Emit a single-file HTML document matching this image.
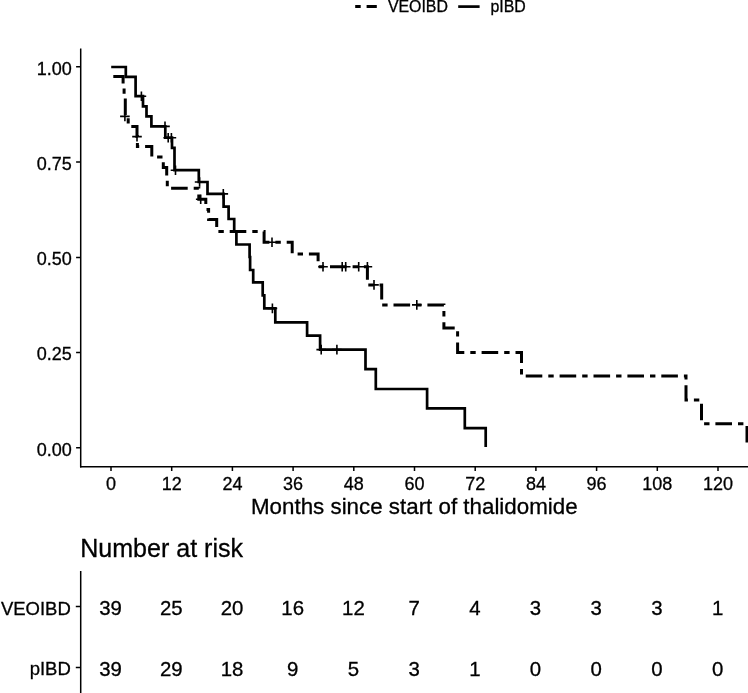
<!DOCTYPE html><html><head><meta charset="utf-8"><title>KM</title><style>html,body{margin:0;padding:0;background:#fff}svg{display:block}text{font-family:"Liberation Sans",Arial,sans-serif;fill:#000;stroke:#000;stroke-width:0.3px}</style></head><body>
<svg width="748" height="693" viewBox="0 0 748 693">
<rect width="748" height="693" fill="#fff"/>
<g id="legend"><path d="M355.2,6.6H360.7M366.6,6.6H376.8" stroke="#000" stroke-width="3" fill="none"/><path d="M458.2,6.6H479.6" stroke="#000" stroke-width="2.7"/>
<text x="387.9" y="12.2" font-size="15.9">VEOIBD</text><text x="490.4" y="12.2" font-size="15.9">pIBD</text></g>
<g stroke="#000" stroke-width="1.5" fill="none"><path d="M80.7,48.4V467.5"/><path d="M80,466.8H748"/>
<path d="M76.1,66.7H80.7M76.1,162.1H80.7M76.1,257.6H80.7M76.1,352.6H80.7M76.1,447.7H80.7M111.0,466.8V470.9M171.7,466.8V470.9M232.4,466.8V470.9M293.1,466.8V470.9M353.8,466.8V470.9M414.5,466.8V470.9M475.2,466.8V470.9M535.9,466.8V470.9M596.6,466.8V470.9M657.3,466.8V470.9M718.0,466.8V470.9"/></g>
<text x="71.9" y="74.5" font-size="18.0" text-anchor="end">1.00</text>
<text x="71.9" y="169.9" font-size="18.0" text-anchor="end">0.75</text>
<text x="71.9" y="265.4" font-size="18.0" text-anchor="end">0.50</text>
<text x="71.9" y="360.4" font-size="18.0" text-anchor="end">0.25</text>
<text x="71.9" y="455.5" font-size="18.0" text-anchor="end">0.00</text>
<text x="111.0" y="490.2" font-size="18.0" text-anchor="middle">0</text>
<text x="171.7" y="490.2" font-size="18.0" text-anchor="middle">12</text>
<text x="232.4" y="490.2" font-size="18.0" text-anchor="middle">24</text>
<text x="293.1" y="490.2" font-size="18.0" text-anchor="middle">36</text>
<text x="353.8" y="490.2" font-size="18.0" text-anchor="middle">48</text>
<text x="414.5" y="490.2" font-size="18.0" text-anchor="middle">60</text>
<text x="475.2" y="490.2" font-size="18.0" text-anchor="middle">72</text>
<text x="535.9" y="490.2" font-size="18.0" text-anchor="middle">84</text>
<text x="596.6" y="490.2" font-size="18.0" text-anchor="middle">96</text>
<text x="657.3" y="490.2" font-size="18.0" text-anchor="middle">108</text>
<text x="718.0" y="490.2" font-size="18.0" text-anchor="middle">120</text>
<text x="414.3" y="514" font-size="22.35" text-anchor="middle">Months since start of thalidomide</text>
<path d="M113.3,76.6 H123.1 V86.5 H124.1 V96.4 H125.3 V116.3 H128.2 V126.4 H137.0 V136.4 H137.4 V146.5 H151.8 V157.1 H163.3 V167.5 H166.7 V177.8 H167.3 V188.3 H198.8 V199.2 H205.8 V209.4 H208.6 V219.6 H216.7 V231.4 H264.1 V242.2 H292.2 V253.9 H318.1 V266.7 H367.4 V284.9 H381.7 V304.9 H443.9 V328.1 H457.6 V352.4 H521.5 V376.1 H686.0 V400.0 H701.5 V423.7 H747.0 V447" stroke="#000" stroke-width="3" fill="none" stroke-dasharray="16.6 6 5.4 5.9"/>
<path d="M111.2,67.0 H125.8 V76.8 H135.6 V96.2 H143.0 V106.3 H146.5 V116.3 H151.4 V126.4 H165.3 V137.7 H172.0 V147.8 H174.5 V170.2 H198.8 V182.0 H207.5 V193.9 H223.6 V206.6 H228.6 V219.0 H234.2 V231.6 H236.4 V244.5 H249.6 V257.0 H250.1 V270.0 H253.2 V282.3 H262.7 V295.3 H264.3 V308.4 H275.3 V322.3 H307.1 V335.7 H320.1 V349.6 H365.5 V369.2 H375.8 V389 H427.1 V408.3 H464.8 V428.1 H485.7 V447" stroke="#000" stroke-width="2.7" fill="none"/>
<path d="M136.6,96.2H146.2M141.4,91.4V101.0M160.2,126.4H169.8M165.0,121.6V131.2M163.4,137.7H173.0M168.2,132.9V142.5M166.6,137.7H176.2M171.4,132.9V142.5M170.7,170.2H180.3M175.5,165.4V175.0M194.8,182.0H204.4M199.6,177.2V186.8M218.5,193.9H228.1M223.3,189.1V198.7M267.6,308.4H277.2M272.4,303.6V313.2M316.4,349.6H326.0M321.2,344.8V354.4M332.1,349.6H341.7M336.9,344.8V354.4M120.1,116.4H129.7M124.9,111.6V121.2M132.2,136.6H141.8M137.0,131.8V141.4M195.9,199.2H205.5M200.7,194.4V204.0M267.2,242.2H276.8M272.0,237.4V247.0M318.2,266.7H327.8M323.0,261.9V271.5M337.4,266.7H347.0M342.2,261.9V271.5M340.9,266.7H350.5M345.7,261.9V271.5M353.9,266.7H363.5M358.7,261.9V271.5M362.6,266.7H372.2M367.4,261.9V271.5M369.2,284.9H378.8M374.0,280.1V289.7M412.0,304.9H421.6M416.8,300.1V309.7" stroke="#000" stroke-width="1.6" fill="none"/>
<text x="80.2" y="557" font-size="25.05">Number at risk</text>
<g stroke="#000" stroke-width="1.5"><path d="M80.7,571.1V693M75.8,606.6H80.7M75.8,667.5H80.7"/></g>
<text x="70.8" y="614.7" font-size="18.5" text-anchor="end">VEOIBD</text><text x="70.8" y="675.2" font-size="18.5" text-anchor="end">pIBD</text>
<text x="110.6" y="615.3" font-size="20.4" text-anchor="middle">39</text><text x="110.6" y="675.7" font-size="20.4" text-anchor="middle">39</text>
<text x="171.3" y="615.3" font-size="20.4" text-anchor="middle">25</text><text x="171.3" y="675.7" font-size="20.4" text-anchor="middle">29</text>
<text x="232.0" y="615.3" font-size="20.4" text-anchor="middle">20</text><text x="232.0" y="675.7" font-size="20.4" text-anchor="middle">18</text>
<text x="292.7" y="615.3" font-size="20.4" text-anchor="middle">16</text><text x="292.7" y="675.7" font-size="20.4" text-anchor="middle">9</text>
<text x="353.4" y="615.3" font-size="20.4" text-anchor="middle">12</text><text x="353.4" y="675.7" font-size="20.4" text-anchor="middle">5</text>
<text x="414.1" y="615.3" font-size="20.4" text-anchor="middle">7</text><text x="414.1" y="675.7" font-size="20.4" text-anchor="middle">3</text>
<text x="474.8" y="615.3" font-size="20.4" text-anchor="middle">4</text><text x="474.8" y="675.7" font-size="20.4" text-anchor="middle">1</text>
<text x="535.5" y="615.3" font-size="20.4" text-anchor="middle">3</text><text x="535.5" y="675.7" font-size="20.4" text-anchor="middle">0</text>
<text x="596.2" y="615.3" font-size="20.4" text-anchor="middle">3</text><text x="596.2" y="675.7" font-size="20.4" text-anchor="middle">0</text>
<text x="656.9" y="615.3" font-size="20.4" text-anchor="middle">3</text><text x="656.9" y="675.7" font-size="20.4" text-anchor="middle">0</text>
<text x="717.6" y="615.3" font-size="20.4" text-anchor="middle">1</text><text x="717.6" y="675.7" font-size="20.4" text-anchor="middle">0</text>
</svg></body></html>
